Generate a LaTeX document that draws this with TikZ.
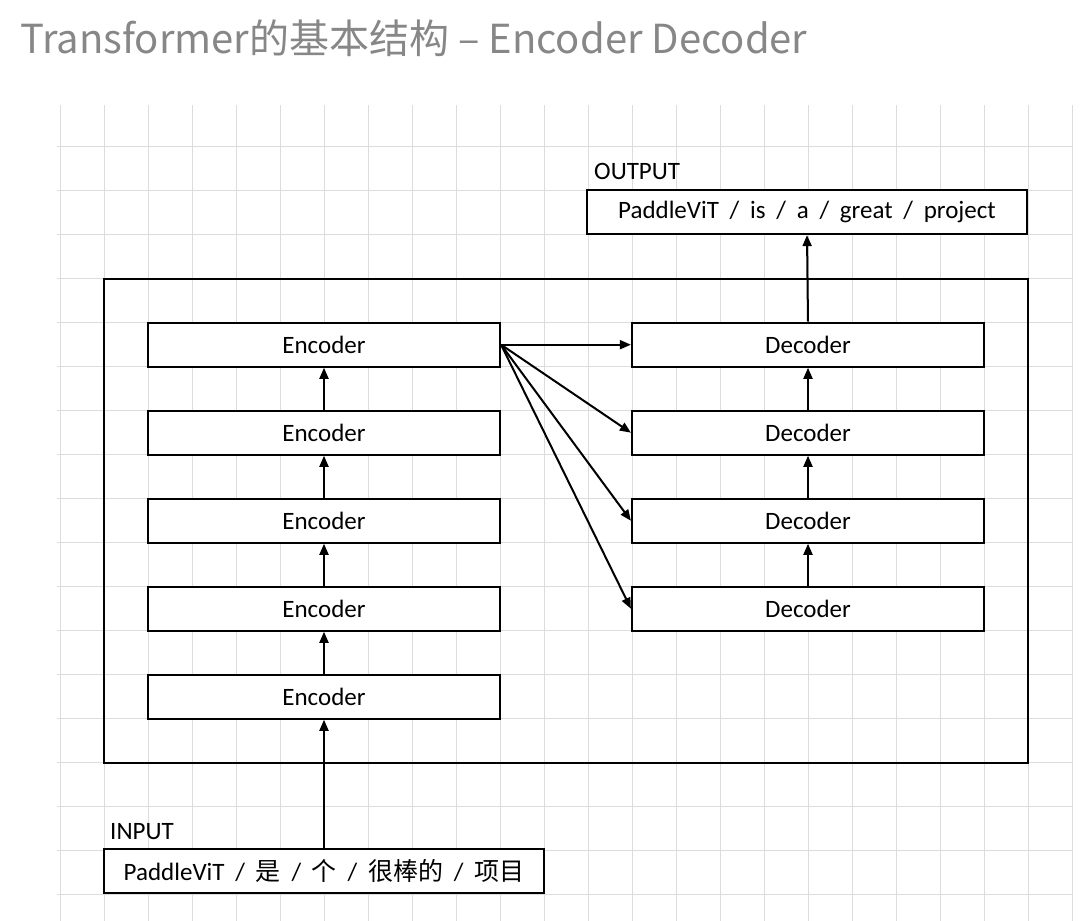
\documentclass[tikz,border=0pt]{standalone}
\usepackage{fontspec}
\setmainfont{Carlito}
\newfontfamily\cjk{Noto Sans CJK SC}
\usetikzlibrary{arrows.meta}
\definecolor{gridc}{HTML}{DCDCDC}
\definecolor{titlec}{HTML}{878787}
\newcommand{\sepsl}{\hspace{0.43em}/\hspace{0.43em}}
\tikzset{
  box/.style={draw=black, line width=2.2pt, fill=white, minimum width=352pt, minimum height=44pt, inner sep=0pt, font=\fontsize{25}{30}\selectfont},
  wide/.style={box, minimum width=440pt},
  lab/.style={inner sep=0pt, anchor=base west, font=\fontsize{25}{30}\selectfont},
  conn/.style={line width=2pt, -{Triangle[length=11pt,width=9pt]}},
}
\begin{document}
\begin{tikzpicture}[x=1pt,y=-1pt]
\useasboundingbox (0,0) rectangle (1085,921);
% grid
\foreach \k in {0,...,23} \draw[gridc, line width=1.4pt] ({60.7+44*\k},105) -- ({60.7+44*\k},921);
\foreach \k in {0,...,17} \draw[gridc, line width=1.4pt] (57,{146.7+44*\k}) -- (1073,{146.7+44*\k});
% title
\node[inner sep=0pt, anchor=base west, text=titlec, font=\cjk\fontsize{40}{48}\selectfont] (title) at (20,53) {Transformer的基本结构 – Encoder Decoder};
% outer frame
\node[draw=black, line width=2.2pt, minimum width=924pt, minimum height=484pt, inner sep=0pt] (frame) at (566,520.7) {};
% encoders
\node[box] (e1) at (324,344.7) {Encoder};
\node[box] (e2) at (324,432.7) {Encoder};
\node[box] (e3) at (324,520.7) {Encoder};
\node[box] (e4) at (324,608.7) {Encoder};
\node[box] (e5) at (324,696.7) {Encoder};
% decoders
\node[box] (d1) at (808,344.7) {Decoder};
\node[box] (d2) at (808,432.7) {Decoder};
\node[box] (d3) at (808,520.7) {Decoder};
\node[box] (d4) at (808,608.7) {Decoder};
% output / input
\node[wide] (out) at (807,212) {PaddleViT\sepsl is\sepsl a\sepsl great\sepsl project};
\node[lab] (outlab) at (594,179) {OUTPUT};
\node[wide] (in) at (324,871) {PaddleViT\sepsl{\cjk 是}\sepsl{\cjk 个}\sepsl{\cjk 很棒的}\sepsl{\cjk 项目}};
\node[lab] (inlab) at (110,839) {INPUT};
% connectors
\draw[conn] (in.north) -- (e5.south);
\draw[conn] (e5.north) -- (e4.south);
\draw[conn] (e4.north) -- (e3.south);
\draw[conn] (e3.north) -- (e2.south);
\draw[conn] (e2.north) -- (e1.south);
\draw[conn] (d4.north) -- (d3.south);
\draw[conn] (d3.north) -- (d2.south);
\draw[conn] (d2.north) -- (d1.south);
\draw[conn] (d1.north) -- (out.south);
\draw[conn] (e1.east) -- (d1.west);
\draw[conn] (e1.east) -- (d2.west);
\draw[conn] (e1.east) -- (d3.west);
\draw[conn] (e1.east) -- (d4.west);
\end{tikzpicture}
\end{document}
